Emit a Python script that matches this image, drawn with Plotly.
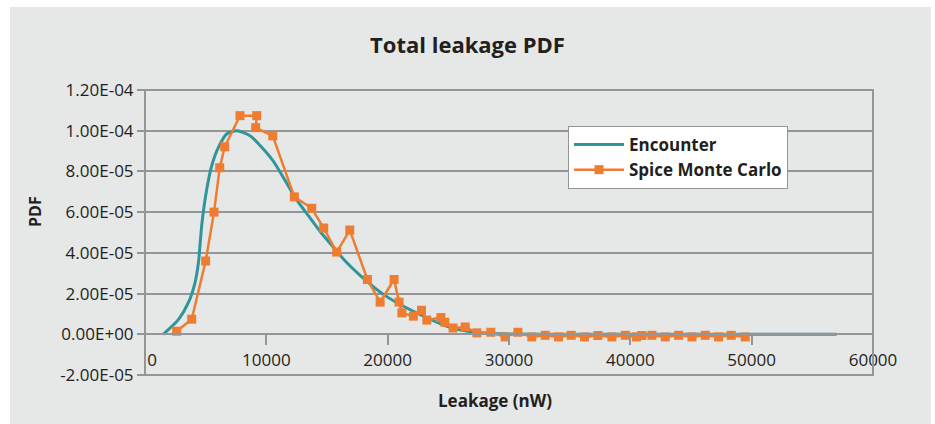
import plotly.graph_objects as go

# Encounter (smooth analytic PDF)
enc_x = [1500, 2750, 3570, 4120, 4400, 4550, 4700, 5090, 5500, 6050, 6730, 7560,
         8660, 9600, 10580, 11500, 12500, 13500, 14500, 15500, 16500, 18000,
         19650, 21030, 22950, 24880, 27350, 30000, 35000, 40000, 45000, 50000, 57000]
enc_y = [0.0, 7.2e-6, 1.55e-5, 2.53e-5, 3.5e-5, 4.5e-5, 5.5e-5, 7.13e-5, 8.28e-5,
         9.18e-5, 9.84e-5, 1.0e-4, 9.75e-5, 9.2e-5, 8.5e-5, 7.6e-5, 6.6e-5, 5.8e-5,
         5.0e-5, 4.3e-5, 3.6e-5, 2.75e-5, 1.96e-5, 1.46e-5, 8.9e-6, 3.9e-6, 8e-7,
         2e-7, 0.0, 0.0, 0.0, 0.0, 0.0]

# Spice Monte Carlo (histogram points)
mc_x = [2610, 3850, 5000, 5690, 6160, 6570, 7830, 9210, 9120, 10530, 12310, 13740,
        14730, 15800, 16880, 18330, 19380, 20530, 20940, 21170, 22120, 22790, 23230,
        24390, 24710, 25390, 26390, 27350, 28500, 29680, 30730, 31880, 32980, 34080,
        35130, 36230, 37330, 38480, 39580, 40500, 40950, 41780, 42880, 43980, 45080,
        46170, 47270, 48320, 49470]
mc_y = [1.5e-6, 7.4e-6, 3.6e-5, 6.0e-5, 8.18e-5, 9.21e-5, 1.074e-4, 1.074e-4,
        1.015e-4, 9.75e-5, 6.75e-5, 6.19e-5, 5.22e-5, 4.04e-5, 5.12e-5, 2.69e-5,
        1.58e-5, 2.69e-5, 1.58e-5, 1.05e-5, 8.9e-6, 1.18e-5, 7.0e-6, 8.2e-6, 5.9e-6,
        3.1e-6, 3.6e-6, 7e-7, 1.0e-6, -1.3e-6, 1.0e-6, -1.3e-6, -5e-7, -1.3e-6,
        -5e-7, -1.3e-6, -6e-7, -1.3e-6, -5e-7, -1.3e-6, -6e-7, -5e-7, -1.3e-6,
        -5e-7, -1.3e-6, -5e-7, -1.3e-6, -5e-7, -1.3e-6]

y_tick_vals = [-2e-5, 0, 2e-5, 4e-5, 6e-5, 8e-5, 1e-4, 1.2e-4]
y_tick_text = ["-2.00E-05", "0.00E+00", "2.00E-05", "4.00E-05", "6.00E-05",
               "8.00E-05", "1.00E-04", "1.20E-04"]
x_tick_vals = [0, 10000, 20000, 30000, 40000, 50000, 60000]
x_tick_text = ["\u2007\u00a00", "10000", "20000", "30000", "40000", "50000", "60000"]

TEAL = "#2f959b"
ORANGE = "#ee7d31"
GRID = "#939598"
BG = "#e6e7e7"
TXT = "#231f20"
FONT = "Open Sans"

fig = go.Figure()
fig.add_trace(go.Scatter(x=enc_x, y=enc_y, mode="lines", name="<b>Encounter</b>",
                         line=dict(color=TEAL, width=3, shape="spline", smoothing=0.7)))
fig.add_trace(go.Scatter(x=mc_x, y=mc_y, mode="lines+markers", name="<b>Spice Monte Carlo</b>",
                         line=dict(color=ORANGE, width=2.5),
                         marker=dict(symbol="square", size=9, color=ORANGE)))

L, R, T, B = 145, 62, 90, 49
W, H = 935, 424
pw, ph = W - L - R, H - T - B

def px_x(px):
    return (px - L) / pw

def px_y(py):
    return (H - B - py) / ph

fig.update_layout(
    width=W, height=H,
    margin=dict(l=L, r=R, t=T, b=B, pad=0),
    paper_bgcolor="white",
    plot_bgcolor=BG,
    font=dict(family=FONT, color=TXT, size=17),
    title=dict(text="<b>Total leakage PDF</b>", x=0.5, xref="container", xanchor="center",
               y=1 - 45 / H, yref="container", yanchor="middle",
               font=dict(size=22, family=FONT, color=TXT)),
    showlegend=True,
    legend=dict(x=px_x(568), y=px_y(126), xanchor="left", yanchor="top",
                bgcolor="white", bordercolor=GRID, borderwidth=1,
                font=dict(size=17, family=FONT, color=TXT),
                itemwidth=50, tracegroupgap=0),
    xaxis=dict(range=[0, 60000], anchor="free", position=(0 - (-2e-5)) / 1.4e-4,
               showgrid=False, zeroline=False, showline=True, linecolor=GRID, linewidth=2,
               ticks="outside", ticklen=10, tickwidth=2, tickcolor=GRID,
               tickvals=x_tick_vals, ticktext=x_tick_text,
               tickfont=dict(size=17, color=TXT, family=FONT)),
    yaxis=dict(range=[-2e-5, 1.2e-4], showgrid=True, gridcolor=GRID, gridwidth=2,
               zeroline=False, showline=False,
               ticks="outside", ticklen=7, tickwidth=2, tickcolor=GRID,
               tickvals=y_tick_vals, ticktext=y_tick_text,
               tickfont=dict(size=17, color=TXT, family=FONT)),
    shapes=[
        dict(type="rect", xref="paper", yref="paper", layer="below",
             x0=px_x(10), x1=px_x(931), y0=px_y(424), y1=px_y(7),
             fillcolor=BG, line=dict(width=0)),
        dict(type="rect", xref="x domain", yref="y domain", layer="above",
             x0=0, x1=1, y0=0, y1=1, line=dict(color=GRID, width=2)),
    ],
    annotations=[
        dict(text="<b>PDF</b>", xref="paper", yref="paper", x=px_x(35), y=px_y(212),
             showarrow=False, textangle=-90, xanchor="center", yanchor="middle",
             font=dict(size=16, family=FONT, color=TXT)),
        dict(text="<b>Leakage (nW)</b>", xref="paper", yref="paper", x=px_x(495), y=px_y(400),
             showarrow=False, xanchor="center", yanchor="middle",
             font=dict(size=17, family=FONT, color=TXT)),
    ],
)

fig.write_html("out.html", config={"displayModeBar": False},
               post_script="document.body.style.margin='0';")
